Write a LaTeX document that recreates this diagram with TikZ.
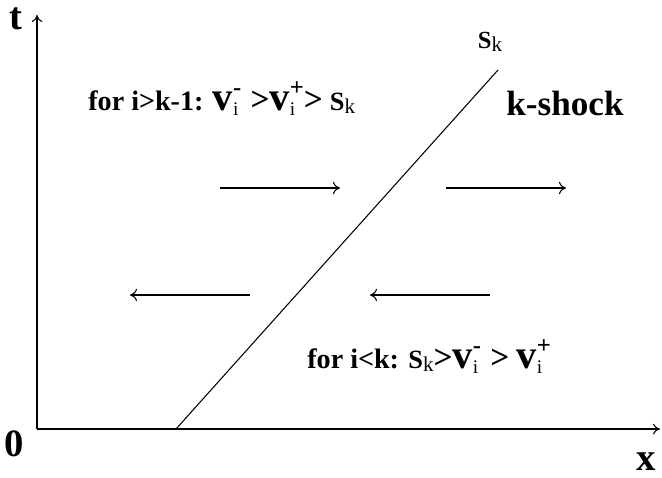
\documentclass[tikz,border=0pt]{standalone}
\usepackage{fontspec}
\setmainfont{Liberation Serif}
\usetikzlibrary{arrows.meta, positioning}

% v with sub- and superscript, S with subscript k, big >
\newcommand{\velo}[1]{{\fontsize{23}{23}\selectfont\bfseries v}\rlap{\raisebox{-3pt}{\fontsize{11}{11}\selectfont\mdseries i}}\raisebox{8pt}{\fontsize{14}{14}\selectfont\bfseries #1}}
\newcommand{\shk}[1]{{\fontsize{#1}{#1}\selectfont\bfseries S}\raisebox{-2pt}{\fontsize{12}{12}\selectfont\mdseries k}}
\newcommand{\bgt}{{\fontsize{19}{19}\selectfont\bfseries >}}

\begin{document}
\begin{tikzpicture}[
    axis/.style={->, line width=0.6pt, >={To[length=4pt,width=6pt]}},
    arrow/.style={->, line width=0.6pt, >={To[length=4pt,width=7pt]}},
    big label/.style={font=\fontsize{22}{22}\selectfont\bfseries, inner sep=0pt},
    cond label/.style={font=\fontsize{16}{16}\selectfont\bfseries, inner sep=0pt, anchor=base west}
    ]

    \useasboundingbox (-0.74,-0.96) rectangle (12.5,8.58);

    % axes
    \coordinate (O) at (0,0);
    \coordinate (T) at (0,8.28);
    \coordinate (X) at (12.46,0);
    \draw[axis] (O) -- (T);
    \draw[axis] (O) -- (X);

    \node[big label] (t) at (-0.42,8.2) {t};
    \node[big label] (zero) at (-0.46,-0.3) {0};
    \node[big label] (x) at (12.18,-0.66) {x};

    % shock line
    \coordinate (S0) at (2.78,0);
    \coordinate (S1) at (9.22,7.18);
    \draw[line width=0.6pt] (S0) -- (S1);

    \node[inner sep=0pt] (Sk) at (9.06,7.74) {\shk{14}};
    \node[font=\fontsize{20}{20}\selectfont\bfseries, inner sep=0pt] (kshock) at (10.56,6.52) {k-shock};

    % conditions
    \node[cond label] (top) at (1.02,6.38) {for i>k-1: \velo{-}\,\,\bgt\velo{+}\bgt\ \shk{15}};
    \node[cond label] (bot) at (5.4,1.22) {for i<k: \shk{15}\bgt\velo{-}\,\,\bgt\ \velo{+}};

    % characteristics
    \coordinate (A1) at (3.66,4.82);
    \coordinate (A2) at (6.06,4.82);
    \coordinate (B1) at (8.18,4.82);
    \coordinate (B2) at (10.58,4.82);
    \coordinate (C1) at (4.26,2.68);
    \coordinate (C2) at (1.86,2.68);
    \coordinate (D1) at (9.06,2.68);
    \coordinate (D2) at (6.66,2.68);
    \draw[arrow] (A1) -- (A2);
    \draw[arrow] (B1) -- (B2);
    \draw[arrow] (C1) -- (C2);
    \draw[arrow] (D1) -- (D2);

\end{tikzpicture}
\end{document}
